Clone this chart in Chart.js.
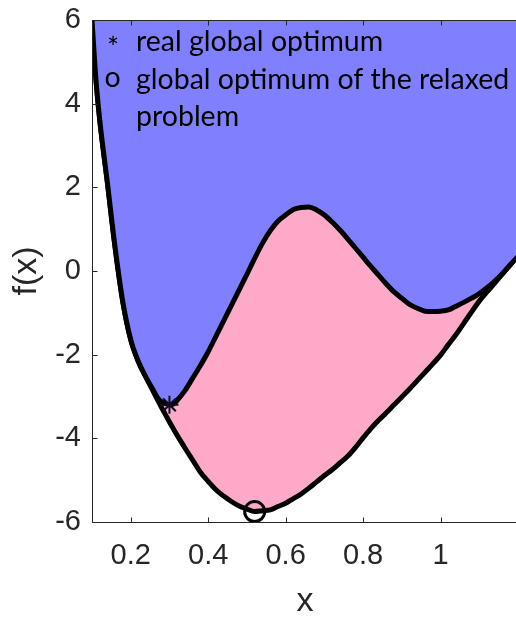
<!DOCTYPE html>
<html><head><meta charset="utf-8">
<script src="https://cdn.jsdelivr.net/npm/chart.js@4/dist/chart.umd.min.js"></script>
<style>html,body{margin:0;padding:0;background:#fff;overflow:hidden;}
#wrap{position:relative;width:518px;height:617px;}</style>
</head><body><div id="wrap"><canvas id="c" width="518" height="617"></canvas></div>
<script>
// ---- data ----
const xValues = [0.10,0.11,0.12,0.14,0.16,0.18,0.20,0.22,0.24,0.26,0.27,0.28,0.29,0.30,0.31,0.32,0.34,0.36,0.38,0.40,
  0.42,0.44,0.46,0.48,0.50,0.52,0.54,0.56,0.58,0.60,0.62,0.64,0.66,0.68,0.70,0.72,0.74,0.76,0.78,0.80,
  0.82,0.84,0.86,0.88,0.90,0.92,0.94,0.96,0.98,1.00,1.02,1.04,1.06,1.08,1.10,1.12,1.14,1.16,1.18,1.20];
const realF = [6.00,4.60,3.61,2.09,0.54,-0.76,-1.64,-2.17,-2.55,-2.88,-3.04,-3.13,-3.17,-3.19,-3.18,-3.09,-2.86,-2.56,-2.26,-1.93,
  -1.56,-1.19,-0.82,-0.45,-0.08,0.30,0.66,0.96,1.19,1.34,1.47,1.52,1.53,1.46,1.34,1.17,0.98,0.77,0.55,0.33,
  0.11,-0.10,-0.31,-0.50,-0.65,-0.80,-0.89,-0.96,-0.97,-0.96,-0.93,-0.84,-0.75,-0.65,-0.54,-0.40,-0.24,-0.06,0.15,0.35];
const relaxedF = [6.00,4.60,3.61,2.09,0.54,-0.76,-1.64,-2.17,-2.55,-2.91,-3.09,-3.27,-3.44,-3.61,-3.77,-3.93,-4.23,-4.52,-4.81,-5.03,
  -5.23,-5.38,-5.51,-5.62,-5.69,-5.75,-5.73,-5.71,-5.63,-5.55,-5.44,-5.33,-5.19,-5.04,-4.89,-4.75,-4.59,-4.43,-4.22,-3.99,
  -3.77,-3.57,-3.39,-3.20,-3.01,-2.82,-2.62,-2.42,-2.22,-2.01,-1.76,-1.52,-1.25,-0.98,-0.72,-0.50,-0.29,-0.07,0.15,0.35];
const realOptimum = [0.30, -3.20];
const relaxedOptimum = [0.52, -5.75];
const xTicks = [0.2, 0.4, 0.6, 0.8, 1];
const xTickLabels = ['0.2', '0.4', '0.6', '0.8', '1'];
const yTicks = [-6, -4, -2, 0, 2, 4, 6];
const yTickLabels = ['-6', '-4', '-2', '0', '2', '4', '6'];
const legendSymbols = ['*', 'o'];
const legendLines = ['real global optimum', 'global optimum of the relaxed', 'problem'];

const pts = ys => xValues.map((x, i) => ({x: x, y: ys[i]}));
const AX = '#262626';
const tickFont = 'Liberation Sans';

const overlay = {
  id: 'overlay',
  afterDatasetsDraw(chart) {
    const {ctx, chartArea: a, scales: {x, y}} = chart;
    ctx.save();
    ctx.strokeStyle = AX; ctx.lineWidth = 1;
    ctx.beginPath();
    const L = Math.round(a.left) + 0.5, B = Math.round(a.bottom) + 0.5, T = Math.round(a.top) + 0.5;
    ctx.moveTo(L, T); ctx.lineTo(L, B);
    ctx.moveTo(L, B); ctx.lineTo(a.right, B);
    ctx.moveTo(L, T); ctx.lineTo(a.right, T);
    xTicks.forEach(v => {
      const p = Math.round(x.getPixelForValue(v)) + 0.5;
      ctx.moveTo(p, B); ctx.lineTo(p, B - 5);
      ctx.moveTo(p, T); ctx.lineTo(p, T + 5);
    });
    yTicks.forEach(v => {
      const p = Math.round(y.getPixelForValue(v)) + 0.5;
      ctx.moveTo(L, p); ctx.lineTo(L + 5, p);
    });
    ctx.stroke();
    ctx.restore();
  },
  afterDraw(chart) {
    const {ctx} = chart;
    ctx.save();
    ctx.fillStyle = '#000';
    ctx.font = '28.5px Lato';
    ctx.textBaseline = 'alphabetic';
    ctx.textAlign = 'left';
    ctx.fillText(legendLines[0], 136, 51);
    ctx.fillText(legendLines[1], 136, 89);
    ctx.fillText(legendLines[2], 136, 126);
    ctx.textAlign = 'center';
    ctx.fillText(legendSymbols[0], 113, 58);
    ctx.fillText(legendSymbols[1], 112.5, 87);
    ctx.restore();
  }
};

const zeroPad = s => { s.paddingTop = 0; s.paddingBottom = 0; s.paddingLeft = 0; s.paddingRight = 0; };

new Chart(document.getElementById('c'), {
  type: 'line',
  data: {datasets: [
    {label: 'f', data: pts(realF), borderColor: '#000', borderWidth: 5, backgroundColor: '#8080ff',
     fill: 'end', pointRadius: 0, cubicInterpolationMode: 'monotone', clip: 0, order: 2},
    {label: 'relaxation', data: pts(relaxedF), borderColor: '#000', borderWidth: 5, backgroundColor: '#ffaac8',
     fill: 0, pointRadius: 0, cubicInterpolationMode: 'monotone', clip: 0, order: 3},
    {label: 'real global optimum', data: [{x: realOptimum[0], y: realOptimum[1]}], showLine: false,
     pointStyle: 'star', pointRadius: 9, borderColor: '#0d0d26', borderWidth: 2, fill: false, clip: false, order: 0},
    {label: 'global optimum of the relaxed problem', data: [{x: relaxedOptimum[0], y: relaxedOptimum[1]}], showLine: false,
     pointStyle: 'circle', pointRadius: 10, borderColor: '#000', borderWidth: 3, backgroundColor: 'rgba(0,0,0,0)', fill: false, clip: false, order: 1}
  ]},
  options: {
    responsive: false, animation: false, devicePixelRatio: 1, events: [],
    layout: {autoPadding: false, padding: {top: 20, right: 0, left: 0, bottom: 0}},
    plugins: {legend: {display: false}, tooltip: {enabled: false}},
    scales: {
      x: {type: 'linear', min: 0.1, max: 1.2,
        grid: {display: false, drawTicks: false}, border: {display: false},
        afterBuildTicks: s => { s.ticks = xTicks.map(v => ({value: v})); },
        afterFit: s => { s.height = 95; zeroPad(s); },
        ticks: {callback: v => { const i = xTicks.indexOf(v); return i >= 0 ? xTickLabels[i] : ''; },
          font: {family: tickFont, size: 29}, color: AX, padding: 17, maxRotation: 0, autoSkip: false},
        title: {display: true, text: 'x', font: {family: tickFont, size: 34, lineHeight: 1}, color: AX, padding: {top: 0, bottom: -2}}
      },
      y: {type: 'linear', min: -6, max: 6,
        grid: {display: false, drawTicks: false}, border: {display: false},
        afterBuildTicks: s => { s.ticks = yTicks.map(v => ({value: v})); },
        afterFit: s => { s.width = 92; zeroPad(s); },
        ticks: {callback: v => { const i = yTicks.indexOf(v); return i >= 0 ? yTickLabels[i] : ''; },
          font: {family: tickFont, size: 29}, color: AX, padding: 11, autoSkip: false},
        title: {display: true, text: 'f(x)', font: {family: tickFont, size: 34, lineHeight: 1}, color: AX, padding: {top: 10, bottom: 0}}
      }
    }
  },
  plugins: [overlay]
});
</script></body></html>
